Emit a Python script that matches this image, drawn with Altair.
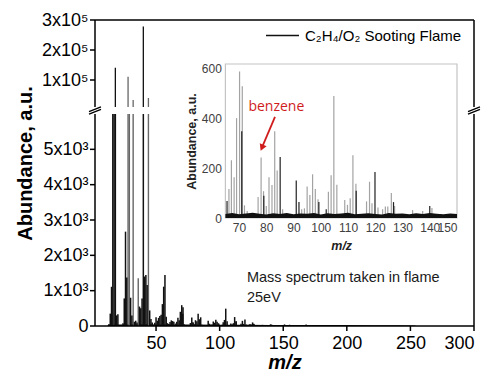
import altair as alt
import pandas as pd

FONT = "Liberation Sans"
SERIES = "C₂H₄/O₂ Sooting Flame"

# ---------------- main spectrum, low-mass part (m/z < 65) ----------------
low_mz = [13, 14, 15, 16, 17, 18, 19, 20, 24, 25, 26, 27, 28, 29, 30, 31, 32, 33,
          34, 35, 36, 37, 38, 39, 40, 41, 42, 43, 44, 45, 46, 47, 49, 50, 51, 52,
          53, 54, 55, 56, 57, 58, 59, 60, 61, 62, 63, 64]
low_ab = [60, 350, 1110, 7000, 9500, 141000, 300, 330, 80, 780, 2670, 1370, 111000,
          7800, 800, 300, 33000, 120, 150, 100, 1350, 550, 500, 780, 278000, 1400,
          1445, 1160, 40000, 440, 200, 100, 90, 250, 150, 230, 280, 320, 620, 1113,
          1445, 260, 80, 60, 110, 160, 140, 120]
low_tone = ["k", "k", "k", "k", "k", "k", "k", "k", "k", "k", "k", "k", "g",
            "g", "k", "k", "g", "k", "k", "k", "g", "k", "k", "k", "k", "k",
            "k", "k", "g", "k", "k", "k", "k", "k", "k", "k", "k", "k", "k", "k",
            "k", "k", "k", "k", "k", "k", "k", "k"]

# ---------------- inset spectrum (m/z 65-150) ----------------
ins_mz = [65.6, 66.3, 67.2, 68.2, 69.1, 70.2, 71.0, 71.2, 72.0, 73.0,
          77.0, 78.1, 79.0, 79.1, 80.0, 81.0, 82.1, 83.1, 84.0, 85.1,
          86.0, 91.0, 92.0, 93.0, 94.0, 95.0, 96.0, 97.0, 98.0, 99.0,
          99.3, 102.0, 102.8, 103.8, 104.8, 105.9, 108.8, 109.8, 110.8, 111.8,
          112.9, 113.0, 116.8, 117.9, 118.8, 119.9, 121.0, 122.7, 123.7, 124.6,
          125.9, 126.7, 127.1, 133.7, 137.4, 140.0, 140.8]
ins_ab = [68, 117, 233, 164, 402, 590, 349, 530, 51, 28,
          85, 244, 108, 90, 48, 164, 133, 349, 191, 246,
          35, 151, 64, 35, 39, 127, 93, 176, 117, 75,
          64, 35, 106, 172, 491, 134, 72, 53, 80, 253,
          138, 110, 67, 146, 59, 185, 42, 35, 46, 46,
          101, 64, 48, 32, 28, 48, 40]
ins_tone = ["k", "g", "g", "g", "g", "g", "k", "g", "g", "g",
            "g", "g", "g", "k", "g", "g", "g", "g", "g", "k",
            "g", "k", "k", "g", "g", "g", "g", "g", "g", "g",
            "k", "k", "g", "g", "g", "g", "g", "g", "g", "g",
            "g", "k", "g", "g", "g", "k", "g", "g", "g", "g",
            "g", "k", "g", "g", "g", "k", "g"]

# inset noise floor
noise_mz = [65, 67.5, 70, 72.5, 75, 77.5, 80, 82.5, 85, 87.5, 90, 92.5, 95, 97.5,
            100, 102.5, 105, 107.5, 110, 112.5, 115, 117.5, 120, 122.5, 125, 127.5,
            130, 132.5, 135, 137.5, 140, 142.5, 145, 147.5, 150]
noise_ab = [16, 20, 15, 18, 21, 17, 14, 19, 16, 20, 15, 18, 17, 20, 14, 19, 16, 18,
            21, 15, 17, 19, 16, 14, 20, 17, 18, 15, 19, 16, 20, 17, 15, 18, 16]

# ---------------- main spectrum, high-mass part ----------------
high_mz = [151, 153, 155, 165, 168, 178]
high_ab = [45, 30, 35, 25, 45, 20]

# main baseline noise
base_mz = [12, 20, 40, 60, 80, 100, 120, 140, 160, 180, 200, 220, 240, 254]
base_ab = [30, 40, 50, 40, 40, 35, 35, 30, 30, 25, 25, 20, 20, 15]

# tick values
x_ticks = [50.0, 100.0, 150.0, 200.0, 250.0, 300.0]
y_up_ticks = [100000.0, 200000.0, 300000.0]
y_low_ticks = [0.0, 1000.0, 2000.0, 3000.0, 4000.0, 5000.0]
x_ins_ticks = [70, 80, 90, 100, 110, 120, 130, 140, 150]
y_ins_ticks = [0, 200, 400, 600]

# annotations
caption_text = ["Mass spectrum taken in flame", "25eV"]
caption_mz = [121.5, 121.5]
caption_ab = [1360.0, 790.0]
benz_text = ["benzene"]
benz_mz = [83.7]
benz_ab = [447.0]
arrow_from = (83.2, 407.0)
arrow_to = (78.56, 287.0)

# axis ranges
X_MAIN = [2.0, 300.0]
Y_UP = [1.0e4, 3.0e5]
Y_LOW = [0.0, 6000.0]
X_INS = [65.0, 150.0]
Y_INS = [0.0, 620.0]

assert len(low_mz) == len(low_ab) == len(low_tone)
assert len(ins_mz) == len(ins_ab) == len(ins_tone)
assert len(noise_mz) == len(noise_ab)

main = pd.DataFrame({
    "mz": low_mz + ins_mz + high_mz,
    "ab": low_ab + ins_ab + high_ab,
    "tone": low_tone + ["k"] * len(ins_mz) + ["k"] * len(high_mz),
})
main["series"] = SERIES
inset = pd.DataFrame({"mz": ins_mz, "ab": ins_ab, "tone": ins_tone})
noise = pd.DataFrame({"mz": noise_mz, "ab": noise_ab})
base = pd.DataFrame({"mz": base_mz, "ab": base_ab})
caps = pd.DataFrame({"mz": caption_mz, "ab": caption_ab, "t": caption_text})
benz = pd.DataFrame({"mz": benz_mz, "ab": benz_ab, "t": benz_text})
arrow = pd.DataFrame({"x": [arrow_from[0]], "y": [arrow_from[1]],
                      "x2": [arrow_to[0]], "y2": [arrow_to[1]]})
# panel frame pieces
vert_up = pd.DataFrame({"x": X_MAIN, "lo": [Y_UP[0]] * 2, "hi": [Y_UP[1]] * 2})
vert_low = pd.DataFrame({"x": X_MAIN, "lo": [Y_LOW[0]] * 2, "hi": [Y_LOW[1]] * 2})
top_edge = pd.DataFrame({"y": [Y_UP[1]], "a": [X_MAIN[0]], "b": [X_MAIN[1]]})
bot_edge = pd.DataFrame({"y": [Y_LOW[0]], "a": [X_MAIN[0]], "b": [X_MAIN[1]]})
tk_up = pd.DataFrame({"x": [X_MAIN[0]] * len(y_up_ticks), "v": y_up_ticks})
tk_low = pd.DataFrame({"x": [X_MAIN[0]] * len(y_low_ticks), "v": y_low_ticks})
tk_x = pd.DataFrame({"v": x_ticks, "y": [Y_LOW[0]] * len(x_ticks)})
brk = pd.DataFrame({"x": X_MAIN, "y": [Y_LOW[1], Y_LOW[1]]})
frame = pd.DataFrame({"x0": [X_INS[0]], "x1": [X_INS[1]], "y0": [Y_INS[0]], "y1": [Y_INS[1]]})

# the view covers the whole canvas; every panel is placed by its scale range
W, H = 483, 364


def XMs():
    return alt.Scale(domain=X_MAIN, range=[87, 466], nice=False, zero=False)


def YUs():
    return alt.Scale(domain=Y_UP, range=[99, 12], nice=False, zero=False, clamp=True)


def YLs():
    return alt.Scale(domain=Y_LOW, range=[318, 106], nice=False, clamp=True)


def XIs():
    return alt.Scale(domain=X_INS, range=[217.4, 449], nice=False, zero=False)


def YIs():
    return alt.Scale(domain=Y_INS, range=[210, 56], nice=False)


main_ax = dict(grid=False, domain=False, ticks=False, labelColor="black", labelFontSize=18,
               labelFont=FONT, titleFont=FONT, titleColor="black")

ax_up = alt.Axis(orient="left", offset=-87, values=y_up_ticks, title=None, labelPadding=7,
                 labelExpr="(datum.value/100000) + 'x10⁵'", **main_ax)
ax_low = alt.Axis(orient="left", offset=-87, values=y_low_ticks,
                  labelExpr="datum.value == 0 ? '0' : (datum.value/1000) + 'x10³'",
                  labelPadding=7, title="Abundance, a.u.", titleFontSize=20,
                  titleFontWeight="bold", titleX=-70, titleY=155, titleAngle=270,
                  titleBaseline="middle", titleAlign="center", **main_ax)
ax_bot = alt.Axis(orient="bottom", offset=-(H - 318), values=x_ticks, labelPadding=8,
                  title="m/z", titleFontSize=20, titleFontWeight="bold",
                  titleFontStyle="italic", titleY=36, titleBaseline="middle", **main_ax)
ax_ix = alt.Axis(orient="bottom", offset=-(H - 210), values=x_ins_ticks, labelOverlap=False,
                 labelFontSize=12, labelFont=FONT, labelColor="#404040", ticks=False,
                 labelPadding=4, domain=False, grid=False,
                 title="m/z", titleFont=FONT, titleFontSize=12.5, titleFontStyle="italic",
                 titleFontWeight="bold", titleColor="#222", titlePadding=6)
ax_iy = alt.Axis(orient="left", offset=-217.4, values=y_ins_ticks, labelOverlap=False,
                 labelFontSize=12, labelFont=FONT, labelColor="#404040", ticks=False,
                 labelPadding=4, domain=False, grid=False,
                 title="Abundance, a.u.", titleFont=FONT, titleFontSize=12.5,
                 titleFontWeight="bold", titleColor="#222", titlePadding=3)

layers = []

# ---------------- upper panel ----------------
layers.append(alt.Chart(main).transform_filter("datum.ab > 10000 && datum.tone == 'g'").mark_rule(
    color="#666", strokeWidth=1.3).encode(
    x=alt.X("mz:Q", scale=XMs(), axis=None),
    y=alt.Y("ab:Q", scale=YUs(), axis=None),
    y2=alt.datum(Y_UP[0])))
layers.append(alt.Chart(main).transform_filter("datum.ab > 10000 && datum.tone == 'k'").mark_rule(
    color="#111", strokeWidth=1.3).encode(
    x=alt.X("mz:Q", scale=XMs(), axis=None),
    y=alt.Y("ab:Q", scale=YUs(), axis=ax_up),
    y2=alt.datum(Y_UP[0])))
layers.append(alt.Chart(vert_up).mark_rule(color="#000", strokeWidth=1.5).encode(
    x=alt.X("x:Q", scale=XMs(), axis=None),
    y=alt.Y("lo:Q", scale=YUs(), axis=None), y2="hi:Q"))
layers.append(alt.Chart(top_edge).mark_rule(color="#000", strokeWidth=1.5).encode(
    y=alt.Y("y:Q", scale=YUs(), axis=None),
    x=alt.X("a:Q", scale=XMs(), axis=None), x2="b:Q"))
layers.append(alt.Chart(tk_up).mark_tick(orient="horizontal", size=5, thickness=1.5,
                                         color="#000", xOffset=-2.5, opacity=1).encode(
    x=alt.X("x:Q", scale=XMs(), axis=None),
    y=alt.Y("v:Q", scale=YUs(), axis=None)))

# ---------------- lower panel ----------------
layers.append(alt.Chart(base).mark_area(color="#111").encode(
    x=alt.X("mz:Q", scale=XMs(), axis=None),
    y=alt.Y("ab:Q", scale=YLs(), axis=None)))
layers.append(alt.Chart(main).transform_filter("datum.tone == 'g'").mark_rule(
    color="#666", strokeWidth=1.4).encode(
    x=alt.X("mz:Q", scale=XMs(), axis=None),
    y=alt.Y("ab:Q", scale=YLs(), axis=None),
    y2=alt.datum(0)))
layers.append(alt.Chart(main).transform_filter("datum.tone == 'k'").mark_rule(strokeWidth=1.5).encode(
    x=alt.X("mz:Q", scale=XMs(), axis=ax_bot),
    y=alt.Y("ab:Q", scale=YLs(), axis=ax_low),
    y2=alt.datum(0),
    color=alt.Color("series:N", scale=alt.Scale(domain=[SERIES], range=["#111"]),
                    legend=alt.Legend(title=None, orient="none", legendX=257, legendY=10,
                                      symbolType="stroke", symbolSize=1089,
                                      symbolStrokeWidth=1.3, labelFontSize=15,
                                      labelFont=FONT, labelColor="black",
                                      labelOffset=5, padding=0))))
layers.append(alt.Chart(vert_low).mark_rule(color="#000", strokeWidth=1.5).encode(
    x=alt.X("x:Q", scale=XMs(), axis=None),
    y=alt.Y("lo:Q", scale=YLs(), axis=None), y2="hi:Q"))
layers.append(alt.Chart(bot_edge).mark_rule(color="#000", strokeWidth=1.5).encode(
    y=alt.Y("y:Q", scale=YLs(), axis=None),
    x=alt.X("a:Q", scale=XMs(), axis=None), x2="b:Q"))
layers.append(alt.Chart(tk_low).mark_tick(orient="horizontal", size=5, thickness=1.5,
                                          color="#000", xOffset=-2.5, opacity=1).encode(
    x=alt.X("x:Q", scale=XMs(), axis=None),
    y=alt.Y("v:Q", scale=YLs(), axis=None)))
layers.append(alt.Chart(tk_x).mark_tick(orient="vertical", size=5, thickness=1.5,
                                        color="#000", yOffset=2.5, opacity=1).encode(
    x=alt.X("v:Q", scale=XMs(), axis=None),
    y=alt.Y("y:Q", scale=YLs(), axis=None)))
layers.append(alt.Chart(brk).mark_point(
    shape="M-1,0.6L1,-0.2M-1,0.2L1,-0.6", filled=False, color="black",
    strokeWidth=1.3, size=144, yOffset=-3.5, opacity=1).encode(
    x=alt.X("x:Q", scale=XMs(), axis=None),
    y=alt.Y("y:Q", scale=YLs(), axis=None)))
layers.append(alt.Chart(caps).mark_text(align="left", baseline="middle", fontSize=14.5,
                                        font=FONT, color="#1a1a1a").encode(
    x=alt.X("mz:Q", scale=XMs(), axis=None),
    y=alt.Y("ab:Q", scale=YLs(), axis=None), text="t:N"))

# ---------------- inset ----------------
layers.append(alt.Chart(frame).mark_rect(filled=False, stroke="#c4c4c4", strokeWidth=1.2).encode(
    x=alt.X("x0:Q", scale=XIs(), axis=None), x2="x1:Q",
    y=alt.Y("y0:Q", scale=YIs(), axis=None), y2="y1:Q"))
layers.append(alt.Chart(inset).transform_filter("datum.tone == 'g'").mark_rule(
    color="#a3a3a3", strokeWidth=1.2).encode(
    x=alt.X("mz:Q", scale=XIs(), axis=ax_ix),
    y=alt.Y("ab:Q", scale=YIs(), axis=ax_iy),
    y2=alt.datum(0)))
layers.append(alt.Chart(inset).transform_filter("datum.tone == 'k'").mark_rule(
    color="#222", strokeWidth=1.2).encode(
    x=alt.X("mz:Q", scale=XIs(), axis=None),
    y=alt.Y("ab:Q", scale=YIs(), axis=None),
    y2=alt.datum(0)))
layers.append(alt.Chart(noise).mark_area(color="#111").encode(
    x=alt.X("mz:Q", scale=XIs(), axis=None),
    y=alt.Y("ab:Q", scale=YIs(), axis=None)))
layers.append(alt.Chart(arrow).mark_rule(color="#d01c1c", strokeWidth=1.8).encode(
    x=alt.X("x:Q", scale=XIs(), axis=None), x2="x2:Q",
    y=alt.Y("y:Q", scale=YIs(), axis=None), y2="y2:Q"))
layers.append(alt.Chart(arrow).mark_point(shape="triangle", filled=True, color="#d01c1c",
                                          size=55, angle=203, opacity=1).encode(
    x=alt.X("x2:Q", scale=XIs(), axis=None),
    y=alt.Y("y2:Q", scale=YIs(), axis=None)))
layers.append(alt.Chart(benz).mark_text(fontSize=14, font="Open Sans", color="#d01c1c",
                                        align="center", baseline="middle").encode(
    x=alt.X("mz:Q", scale=XIs(), axis=None),
    y=alt.Y("ab:Q", scale=YIs(), axis=None), text="t:N"))

chart = alt.layer(*layers).resolve_scale(
    x="independent", y="independent"
).resolve_axis(
    x="independent", y="independent"
).properties(
    width=W, height=H,
    padding={"left": 0, "top": 0, "right": 0, "bottom": 0},
    autosize=alt.AutoSizeParams(type="none"),
    background="white",
).configure_view(stroke=None)

chart.save("out.html", embed_options={"renderer": "svg", "actions": False})
